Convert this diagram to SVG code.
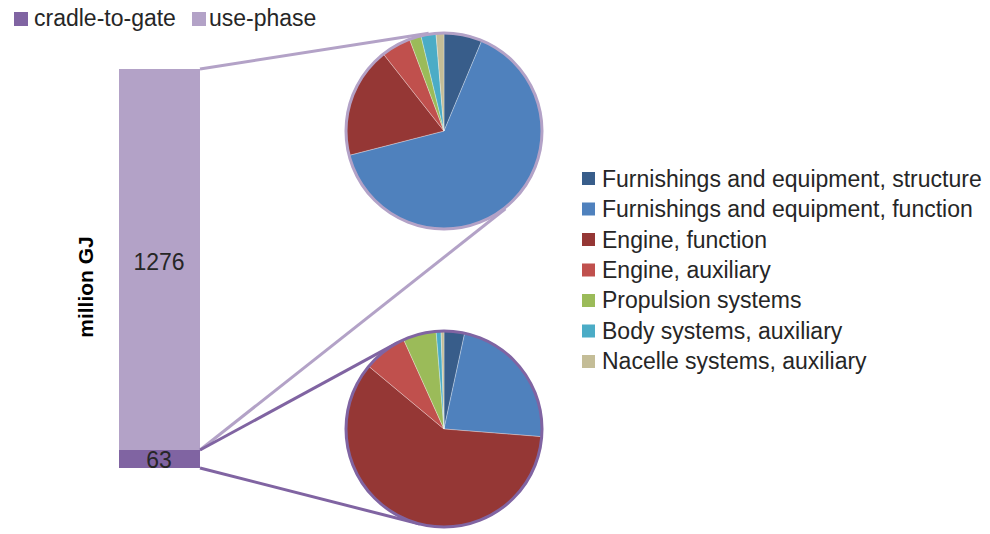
<svg xmlns="http://www.w3.org/2000/svg" width="990" height="534" viewBox="0 0 990 534">
<style>
text{font-family:"Liberation Sans",Arial,sans-serif;font-size:23px;fill:#262626}
.c1{fill:#385d8a}.c2{fill:#4f81bd}.c3{fill:#953735}.c4{fill:#c0504d}.c5{fill:#9bbb59}.c6{fill:#4bacc6}.c7{fill:#c4bd97}
.sl path{stroke:#ffffff;stroke-width:0.6;stroke-opacity:0.5}
.lu{stroke:#b3a2c7;stroke-width:3;fill:none}
.lc{stroke:#8064a2;stroke-width:3;fill:none}
</style>
<rect width="990" height="534" fill="#ffffff"/>
<g id="top-legend">
<rect x="14" y="12" width="14" height="14" fill="#8064a2"/>
<text x="34" y="26">cradle-to-gate</text>
<rect x="192" y="12" width="14" height="14" fill="#b3a2c7"/>
<text x="209" y="26">use-phase</text>
</g>
<g id="bar">
<rect x="119" y="69" width="81" height="381" fill="#b3a2c7"/>
<rect x="119" y="450" width="81" height="18" fill="#8064a2"/>
<text x="159" y="270" text-anchor="middle">1276</text>
<text x="159" y="468" text-anchor="middle">63</text>
<text transform="translate(93,287) rotate(-90)" text-anchor="middle" style="font-weight:bold;font-size:21px;fill:#000">million GJ</text>
</g>
<g id="connectors">
<line class="lu" x1="200" y1="69" x2="428.7" y2="33.2"/>
<line class="lu" x1="200" y1="450" x2="505.4" y2="208.8"/>
<line class="lc" x1="200" y1="450" x2="397.2" y2="342.9"/>
<line class="lc" x1="200" y1="468" x2="419.8" y2="524"/>
</g>
<g id="pie-use-phase" class="sl">
<path class="c1" d="M444,131 L444,33 A98,98 0 0 1 481.82,40.59 Z"/>
<path class="c2" d="M444,131 L481.82,40.59 A98,98 0 1 1 349.08,155.37 Z"/>
<path class="c3" d="M444,131 L349.08,155.37 A98,98 0 0 1 383.4,53.98 Z"/>
<path class="c4" d="M444,131 L383.4,53.98 A98,98 0 0 1 409.52,39.26 Z"/>
<path class="c5" d="M444,131 L409.52,39.26 A98,98 0 0 1 420.96,35.74 Z"/>
<path class="c6" d="M444,131 L420.96,35.74 A98,98 0 0 1 435.97,33.33 Z"/>
<path class="c7" d="M444,131 L435.97,33.33 A98,98 0 0 1 444,33 Z"/>
<circle class="lu" cx="444" cy="131" r="98"/>
</g>
<g id="pie-cradle-to-gate" class="sl">
<path class="c1" d="M444,429 L444,331 A98,98 0 0 1 464.71,333.21 Z"/>
<path class="c2" d="M444,429 L464.71,333.21 A98,98 0 0 1 541.7,436.69 Z"/>
<path class="c3" d="M444,429 L541.7,436.69 A98,98 0 1 1 368.71,366.27 Z"/>
<path class="c4" d="M444,429 L368.71,366.27 A98,98 0 0 1 403.67,339.68 Z"/>
<path class="c5" d="M444,429 L403.67,339.68 A98,98 0 0 1 436.14,331.31 Z"/>
<path class="c6" d="M444,429 L436.14,331.31 A98,98 0 0 1 441.09,331.04 Z"/>
<path class="c7" d="M444,429 L441.09,331.04 A98,98 0 0 1 444,331 Z"/>
<circle class="lc" cx="444" cy="429" r="98"/>
</g>
<g id="legend">
<rect class="c1" x="582" y="172" width="13" height="13"/><text x="602" y="186.7">Furnishings and equipment, structure</text>
<rect class="c2" x="582" y="202.5" width="13" height="13"/><text x="602" y="217.1">Furnishings and equipment, function</text>
<rect class="c3" x="582" y="233" width="13" height="13"/><text x="602" y="247.5">Engine, function</text>
<rect class="c4" x="582" y="263.5" width="13" height="13"/><text x="602" y="277.9">Engine, auxiliary</text>
<rect class="c5" x="582" y="294" width="13" height="13"/><text x="602" y="308.3">Propulsion systems</text>
<rect class="c6" x="582" y="324.5" width="13" height="13"/><text x="602" y="338.7">Body systems, auxiliary</text>
<rect class="c7" x="582" y="355" width="13" height="13"/><text x="602" y="369.1">Nacelle systems, auxiliary</text>
</g>
</svg>
